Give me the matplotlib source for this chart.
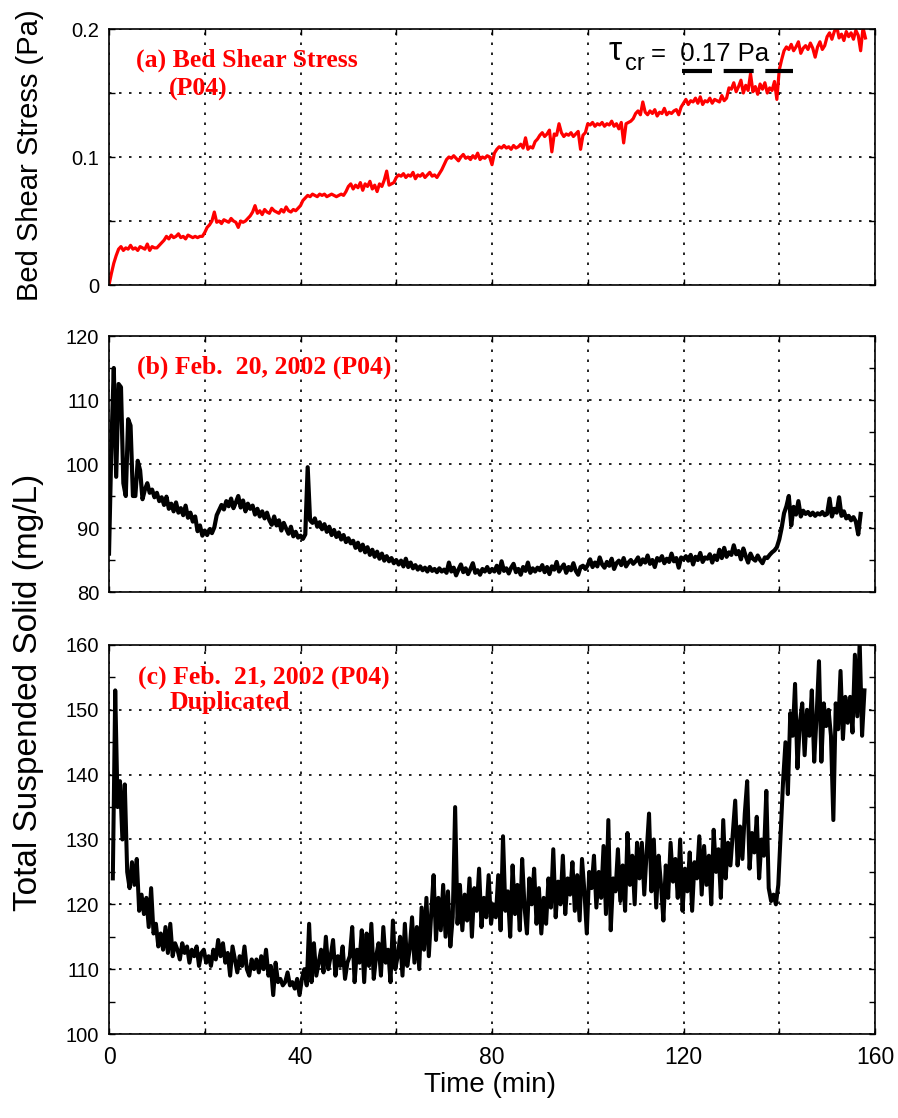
import numpy as np
import matplotlib.pyplot as plt
from matplotlib.ticker import MultipleLocator

plt.rcParams['font.family'] = ['Liberation Sans', 'DejaVu Sans']

W, H = 898, 1118
STEP = 0.5  # sampling interval (min)

# (a) bed shear stress (Pa), every 0.5 min from t = 0
tau = [
    0.000, 0.009, 0.017, 0.023, 0.028, 0.030, 0.027, 0.029, 0.028, 0.031, 0.028, 0.029, 0.027, 0.030, 0.029, 0.028, 0.032, 0.027, 0.030, 0.029,
    0.029, 0.031, 0.033, 0.035, 0.038, 0.036, 0.039, 0.037, 0.038, 0.040, 0.037, 0.038, 0.036, 0.039, 0.038, 0.037, 0.038, 0.037, 0.038, 0.038,
    0.041, 0.045, 0.047, 0.050, 0.057, 0.049, 0.050, 0.048, 0.051, 0.050, 0.049, 0.052, 0.050, 0.049, 0.045, 0.050, 0.049, 0.050, 0.052, 0.054,
    0.057, 0.062, 0.056, 0.058, 0.055, 0.059, 0.057, 0.056, 0.060, 0.058, 0.057, 0.056, 0.059, 0.057, 0.061, 0.058, 0.057, 0.059, 0.058, 0.060,
    0.062, 0.066, 0.068, 0.070, 0.069, 0.071, 0.070, 0.069, 0.071, 0.070, 0.071, 0.069, 0.070, 0.071, 0.070, 0.069, 0.070, 0.071, 0.070, 0.073,
    0.077, 0.079, 0.075, 0.078, 0.076, 0.080, 0.074, 0.079, 0.077, 0.081, 0.075, 0.078, 0.073, 0.079, 0.077, 0.082, 0.089, 0.078, 0.079, 0.080,
    0.084, 0.086, 0.085, 0.087, 0.084, 0.086, 0.085, 0.088, 0.083, 0.086, 0.085, 0.087, 0.084, 0.086, 0.088, 0.085, 0.086, 0.084, 0.087, 0.090,
    0.094, 0.098, 0.100, 0.099, 0.101, 0.099, 0.097, 0.100, 0.102, 0.099, 0.100, 0.098, 0.101, 0.099, 0.103, 0.098, 0.100, 0.099, 0.101, 0.100,
    0.094, 0.103, 0.106, 0.108, 0.107, 0.109, 0.107, 0.108, 0.106, 0.109, 0.107, 0.108, 0.110, 0.107, 0.115, 0.106, 0.108, 0.107, 0.112, 0.114,
    0.117, 0.119, 0.116, 0.118, 0.121, 0.104, 0.118, 0.117, 0.126, 0.119, 0.116, 0.118, 0.117, 0.119, 0.116, 0.118, 0.120, 0.106, 0.117, 0.119,
    0.126, 0.125, 0.127, 0.124, 0.126, 0.125, 0.127, 0.124, 0.126, 0.125, 0.128, 0.124, 0.126, 0.122, 0.127, 0.111, 0.126, 0.127, 0.128, 0.130,
    0.134, 0.136, 0.133, 0.143, 0.135, 0.133, 0.136, 0.134, 0.137, 0.132, 0.135, 0.134, 0.138, 0.133, 0.135, 0.134, 0.136, 0.137, 0.133, 0.139,
    0.142, 0.145, 0.141, 0.144, 0.143, 0.146, 0.142, 0.147, 0.141, 0.144, 0.143, 0.146, 0.142, 0.145, 0.144, 0.143, 0.148, 0.144, 0.146, 0.154,
    0.153, 0.158, 0.151, 0.155, 0.160, 0.150, 0.156, 0.152, 0.165, 0.151, 0.155, 0.149, 0.157, 0.153, 0.158, 0.150, 0.154, 0.152, 0.159, 0.145,
    0.168, 0.176, 0.183, 0.186, 0.184, 0.188, 0.183, 0.186, 0.190, 0.181, 0.185, 0.187, 0.184, 0.189, 0.185, 0.178, 0.186, 0.190, 0.184, 0.187,
    0.194, 0.197, 0.192, 0.198, 0.202, 0.193, 0.196, 0.191, 0.198, 0.194, 0.197, 0.192, 0.199, 0.195, 0.183, 0.201, 0.193,
]
tau_start = 0.0

# (b) TSS, Feb. 20, 2002 (mg/L)
tss_b = [
    86.0, 103.0, 115.0, 98.0, 112.5, 112.0, 97.0, 95.0, 107.0, 106.0, 95.0, 95.0, 100.5, 99.0, 94.5, 96.0, 97.0, 95.5, 96.0, 94.8,
    95.5, 94.2, 94.8, 93.6, 94.9, 93.0, 93.8, 92.6, 94.0, 92.4, 93.1, 92.0, 93.5, 91.6, 92.4, 91.0, 91.8, 89.5, 90.4, 88.8,
    89.6, 88.9, 89.8, 89.2, 90.1, 92.0, 92.8, 93.6, 92.9, 94.2, 93.4, 94.6, 93.1, 94.0, 95.0, 93.2, 94.3, 92.6, 93.8, 93.0,
    93.5, 92.1, 93.0, 91.8, 92.6, 91.5, 92.4, 91.2, 90.5, 91.8, 90.4, 91.2, 89.6, 90.8, 89.9, 89.1, 90.2, 88.7, 89.4, 88.5,
    88.8, 88.3, 89.0, 99.5, 91.2, 90.8, 91.5, 90.2, 90.9, 89.8, 90.6, 89.4, 90.2, 88.9, 89.7, 88.6, 89.3, 88.2, 88.9, 87.8,
    88.4, 87.6, 88.0, 86.9, 87.7, 86.5, 87.4, 86.2, 87.0, 85.8, 86.6, 85.5, 86.3, 85.2, 86.0, 84.9, 85.6, 84.8, 85.3, 84.5,
    85.0, 84.3, 84.9, 84.0, 85.2, 83.9, 84.6, 83.7, 84.2, 83.5, 84.0, 83.4, 83.8, 83.2, 83.9, 83.3, 83.6, 83.1, 83.7, 83.2,
    83.5, 83.0, 84.6, 83.2, 83.8, 82.6, 83.5, 84.3, 83.1, 83.7, 82.8, 83.6, 84.5, 83.0, 83.4, 82.7, 83.6, 83.2, 83.9, 83.1,
    83.6, 83.2, 84.1, 83.0, 84.8, 83.3, 83.7, 82.9, 83.8, 84.4, 83.1, 83.6, 82.7, 83.9, 83.3, 84.6, 83.0, 83.7, 83.2, 83.8,
    83.4, 84.2, 83.1, 83.9, 82.8, 84.0, 83.5, 84.7, 83.2, 83.8, 84.3, 83.0, 83.9, 83.4, 84.5, 83.3, 82.7, 83.9, 84.1, 83.6,
    84.2, 85.1, 83.9, 84.6, 84.0, 85.4, 84.3, 83.8, 84.7, 84.1, 85.2, 83.6, 84.5, 84.9, 84.2, 85.3, 84.0, 84.6, 85.0, 84.4,
    84.8, 85.4, 84.3, 85.1, 84.6, 85.7, 84.4, 85.0, 83.9, 85.3, 84.9, 85.6, 84.5, 85.2, 84.7, 86.0, 84.8, 85.3, 83.8, 85.4,
    85.1, 85.6, 84.9, 85.8, 84.3, 85.5, 85.0, 86.1, 84.7, 85.4, 85.2, 85.9, 84.6, 85.7, 85.0, 86.6, 85.3, 86.9, 85.5, 86.2,
    85.8, 87.3, 85.9, 86.4, 85.1, 86.8, 85.6, 84.6, 86.0, 85.2, 84.9, 85.7, 85.0, 84.5, 85.4, 85.3, 85.8, 86.2, 86.5, 87.0,
    88.2, 90.0, 92.3, 93.4, 95.0, 90.4, 93.3, 92.1, 94.2, 91.8, 92.7, 92.2, 92.5, 92.0, 92.4, 91.9, 92.3, 92.1, 92.5, 92.0,
    92.2, 94.6, 91.8, 93.0, 92.4, 94.8, 91.9, 92.6, 91.5, 91.9, 91.2, 91.7, 91.0, 89.0, 92.2,
]
tss_b_start = 0.0

# (c) TSS, Feb. 21, 2002, duplicated run (mg/L)
tss_c = [
    124.0, 153.0, 135.0, 139.0, 130.0, 138.5, 125.0, 122.5, 126.5, 123.0, 127.0, 119.0, 121.5, 118.5, 121.0, 116.5, 122.5, 115.5, 117.0, 113.5,
    115.5, 113.0, 116.5, 112.5, 117.0, 112.0, 114.0, 113.0, 111.5, 114.0, 112.5, 113.5, 111.0, 113.0, 112.0, 113.5, 110.5, 112.5, 113.0, 111.0,
    112.0, 110.5, 113.0, 111.5, 114.5, 112.0, 114.0, 111.0, 112.5, 109.0, 113.5, 111.5, 109.5, 112.0, 110.5, 113.5, 110.0, 109.0, 111.5, 110.0,
    111.5, 109.5, 112.0, 110.0, 113.0, 109.0, 110.5, 106.0, 111.0, 108.0, 108.5, 107.5, 108.0, 109.5, 107.5, 108.0, 107.0, 108.5, 106.0, 108.5,
    110.0, 107.5, 117.0, 108.0, 114.0, 109.0, 111.0, 113.0, 109.5, 115.0, 110.0, 112.0, 114.5, 109.0, 112.0, 110.5, 113.5, 108.5, 111.0, 112.0,
    116.5, 108.0, 113.0, 111.0, 116.0, 108.0, 115.5, 110.5, 117.0, 108.5, 112.0, 114.0, 109.0, 116.5, 111.0, 113.0, 108.0, 117.5, 110.0, 112.0,
    115.0, 109.0, 117.0, 110.5, 113.0, 118.0, 111.0, 116.5, 110.0, 119.5, 113.0, 121.0, 112.0, 118.5, 124.5, 114.5, 121.0, 116.0, 123.0, 115.0,
    122.0, 113.5, 118.0, 135.0, 117.0, 123.0, 116.0, 121.5, 117.5, 124.0, 115.0, 122.5, 119.0, 125.5, 116.5, 121.0, 118.0, 124.5, 117.0, 120.0,
    118.0, 124.5, 116.0, 130.5, 119.0, 122.0, 115.0, 126.0, 118.5, 123.0, 116.0, 127.0, 119.5, 115.5, 124.0, 120.0, 125.5, 117.0, 122.5, 115.5,
    121.0, 117.0, 124.0, 119.5, 128.5, 118.0, 123.5, 120.0, 127.5, 118.5, 124.0, 121.5, 126.5, 119.0, 124.5, 117.5, 127.0, 122.0, 115.5, 125.0,
    122.5, 127.5, 119.5, 125.0, 121.0, 129.0, 118.5, 133.0, 116.0, 124.0, 122.0, 128.5, 120.5, 126.0, 119.0, 131.0, 123.0, 127.5, 120.0, 129.5,
    124.0, 129.5, 121.5, 128.0, 134.0, 122.0, 130.0, 119.5, 127.5, 123.0, 117.5, 126.0, 121.0, 129.5, 123.5, 127.0, 121.0, 130.0, 119.0, 125.5,
    122.0, 128.0, 119.0, 126.5, 124.0, 130.5, 121.5, 129.0, 123.0, 127.5, 120.0, 131.5, 125.0, 128.5, 121.0, 133.0, 124.0, 129.5, 126.0, 131.0,
    136.0, 126.0, 132.0, 127.0, 134.0, 139.0, 125.5, 131.0, 128.0, 133.5, 124.0, 130.0, 127.5, 137.5, 122.5, 120.5, 121.5, 120.0, 123.0, 131.0,
    139.0, 145.0, 137.0, 149.5, 146.0, 154.0, 141.0, 148.0, 151.0, 143.0, 150.0, 146.0, 153.0, 142.0, 149.0, 157.5, 142.0, 151.0, 147.5, 150.0,
    146.0, 133.0, 151.0, 147.0, 156.0, 145.5, 152.0, 148.0, 152.0, 146.5, 158.5, 149.0, 160.5, 146.0, 153.0,
]
tss_c_start = 0.8

tau_cr_line = 0.167
tau_cr_span = [119.7, 142.9]

x_ticks = [0, 20, 40, 60, 80, 100, 120, 140, 160]
x_tick_labels = ['0', '', '40', '', '80', '', '120', '', '160']
a_ticks = [0, 0.05, 0.1, 0.15, 0.2]
a_tick_labels = ['0', '', '0.1', '', '0.2']
b_ticks = [80, 90, 100, 110, 120]
c_ticks = [100, 110, 120, 130, 140, 150, 160]


def pix(x0, y0, x1, y1):
    return [x0 / W, 1 - y1 / H, (x1 - x0) / W, (y1 - y0) / H]


def style(ax):
    ax.set_xlim(0, 160)
    ax.set_xticks(x_ticks)
    ax.tick_params(which='both', direction='in', top=True, right=True,
                   width=1, pad=7)
    ax.tick_params(which='major', length=4, labelsize=14.5)
    ax.tick_params(which='minor', length=4)
    ax.tick_params(axis='x', labelsize=16.5, pad=9)
    ax.grid(True, which='major', color='k', linestyle=(0, (1.5, 4.5)), linewidth=1.2)
    for s in ax.spines.values():
        s.set_linewidth(1.2)


fig = plt.figure(figsize=(W / 100, H / 100), dpi=100)
ax_a = fig.add_axes(pix(109, 29, 875, 285))
ax_b = fig.add_axes(pix(109, 336, 875, 592))
ax_c = fig.add_axes(pix(109, 645, 875, 1034))

t_a = tau_start + STEP * np.arange(len(tau))
t_b = tss_b_start + STEP * np.arange(len(tss_b))
t_c = tss_c_start + STEP * np.arange(len(tss_c))

# (a)
style(ax_a)
ax_a.plot(t_a, tau, color='#ff0000', lw=2.3)
ax_a.plot(tau_cr_span, [tau_cr_line, tau_cr_line], color='k', lw=3,
          dashes=(7.2, 2.8))
ax_a.set_ylim(0, 0.2)
ax_a.set_yticks(a_ticks)
ax_a.set_yticklabels(a_tick_labels)
ax_a.tick_params(labelbottom=False)

# (b)
style(ax_b)
ax_b.plot(t_b, tss_b, color='k', lw=3.0)
ax_b.set_ylim(80, 120)
ax_b.set_yticks(b_ticks)
ax_b.yaxis.set_minor_locator(MultipleLocator(5))
ax_b.tick_params(labelbottom=False)

# (c)
style(ax_c)
ax_c.plot(t_c, tss_c, color='k', lw=2.9)
ax_c.set_ylim(100, 160)
ax_c.set_yticks(c_ticks)
ax_c.yaxis.set_minor_locator(MultipleLocator(5))
ax_c.set_xticklabels(x_tick_labels)

# labels
fig.text(30 / W, 1 - 155 / H, 'Bed Shear Stress (Pa)', rotation=90,
         ha='center', va='center', fontsize=21)
fig.text(29 / W, 1 - 692 / H, 'Total Suspended Solid (mg/L)', rotation=90,
         ha='center', va='center', fontsize=24)
fig.text(490 / W, 1 - 1085 / H, 'Time (min)', ha='center', va='center',
         fontsize=20)

red = dict(family=['Liberation Serif', 'DejaVu Serif'], weight='bold',
           color='#ff0000', fontsize=18.5, ha='left', va='center')
fig.text(136 / W, 1 - 60 / H, '(a) Bed Shear Stress', **red)
fig.text(169 / W, 1 - 89 / H, '(P04)', **red)
fig.text(137 / W, 1 - 367 / H, '(b) Feb.  20, 2002 (P04)', **red)
fig.text(138 / W, 1 - 677 / H, '(c) Feb.  21, 2002 (P04)', **red)
fig.text(170 / W, 1 - 703 / H, 'Duplicated', **red)

fig.text(609 / W, 1 - 52 / H, '\u03c4', fontsize=24, ha='left', va='center')
fig.text(625 / W, 1 - 64 / H, 'cr', fontsize=17, ha='left', va='center')
fig.text(651 / W, 1 - 54 / H, '=  0.17 Pa', fontsize=18.5, ha='left', va='center')

fig.savefig('out.png', dpi=100)
